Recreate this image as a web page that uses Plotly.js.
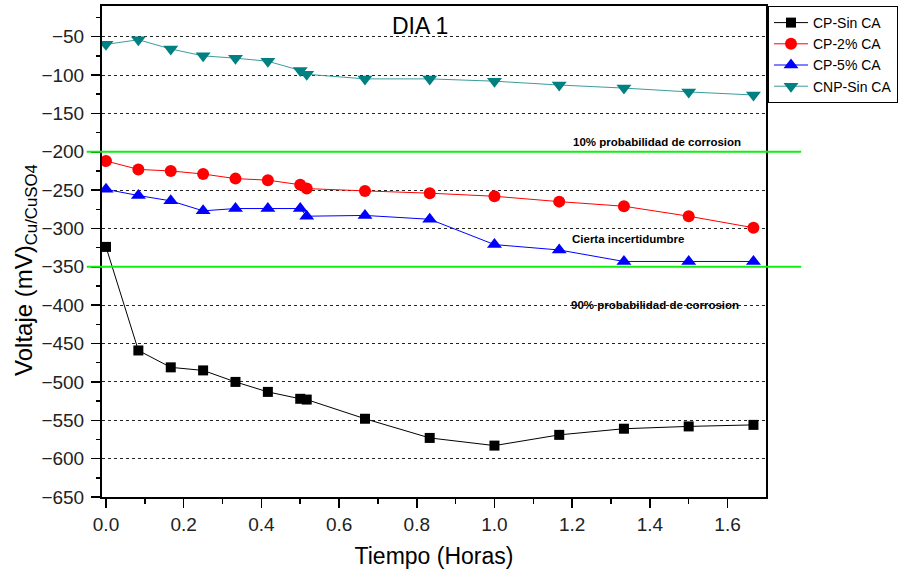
<!DOCTYPE html>
<html>
<head>
<meta charset="utf-8">
<script src="https://cdn.plot.ly/plotly-3.0.1.min.js"></script>
<style>html,body{margin:0;padding:0;background:#fff}#chart{width:906px;height:577px}</style>
</head>
<body>
<div id="chart"></div>
<script>
// Time (hours)
const tiempo = [0, 0.0833, 0.1667, 0.25, 0.3333, 0.4167, 0.5, 0.5167, 0.6667, 0.8333, 1.0, 1.1667, 1.3333, 1.5, 1.6667];
// Series (mV vs Cu/CuSO4)
const cpSinCA  = [-324, -459, -481, -485, -500, -513, -522, -523, -548, -573, -583, -569, -561, -558, -556];
const cp2CA    = [-212, -223, -225, -229, -235, -237, -243, -248, -251, -254, -258, -265, -271, -284, -299];
const cp5CA    = [-249, -257, -264, -277, -274, -274, -274, -284, -283, -288, -321, -328, -343, -343, -343];
const cnpSinCA = [-60, -54, -66, -75, -78, -82, -94, -99, -105, -105, -108, -113, -117, -122, -126];
const seriesNames = ["CP-Sin CA", "CP-2% CA", "CP-5% CA", "CNP-Sin CA"];
// threshold levels
const umbrales = [-200, -350];
const yTickVals = [-50, -100, -150, -200, -250, -300, -350, -400, -450, -500, -550, -600, -650];

const traces = [
  {x: tiempo, y: cpSinCA, name: seriesNames[0], mode: 'lines+markers',
   line: {color: '#000000', width: 1}, marker: {symbol: 'square', size: 10, color: '#000000'}},
  {x: tiempo, y: cp2CA, name: seriesNames[1], mode: 'lines+markers',
   line: {color: '#ff0000', width: 1}, marker: {symbol: 'circle', size: 12, color: '#ff0000'}},
  {x: tiempo, y: cp5CA, name: seriesNames[2], mode: 'lines+markers',
   line: {color: '#0000ff', width: 1}, marker: {symbol: 'triangle-up', size: 13, color: '#0000ff'}},
  {x: tiempo, y: cnpSinCA, name: seriesNames[3], mode: 'lines+markers',
   line: {color: '#3c9c9c', width: 1}, marker: {symbol: 'triangle-down', size: 13, color: '#008080'}}
];

const shapes = umbrales.map(v => ({
  type: 'line', xref: 'paper', yref: 'y', x0: -0.023, x1: 1.053, y0: v, y1: v,
  line: {color: '#11ee11', width: 2}, layer: 'above'
}));

const annFont = {family: 'Arial, Liberation Sans, sans-serif', size: 11.5, color: '#000'};
const annotations = [
  {x: 1.419, y: -187, xref: 'x', yref: 'y', text: '<b>10% probabilidad de corrosion</b>', showarrow: false, font: annFont},
  {x: 1.344, y: -314, xref: 'x', yref: 'y', text: '<b>Cierta incertidumbre</b>', showarrow: false, font: annFont},
  {x: 1.414, y: -400, xref: 'x', yref: 'y', text: '<b>90% probabilidad de corrosion</b>', showarrow: false, font: annFont},
  // y-axis title (placed as annotation to match its offset position)
  {xref: 'paper', yref: 'paper', x: -0.116, y: 0.4623, xanchor: 'center', yanchor: 'middle',
   textangle: -90, showarrow: false, text: 'Voltaje (mV)<sub>Cu/CuSO4</sub>',
   font: {family: 'Arial, Liberation Sans, sans-serif', size: 24, color: '#000'}}
];

const layout = {
  width: 906, height: 577,
  margin: {l: 102, r: 140, t: 6, b: 80, pad: 0},
  paper_bgcolor: '#fff', plot_bgcolor: '#fff',
  font: {family: 'Arial, Liberation Sans, sans-serif', color: '#000'},
  title: {text: 'DIA 1', font: {size: 23, color: '#000'}, xref: 'paper', x: 0.479, xanchor: 'center',
          yref: 'container', y: 0.955, yanchor: 'middle'},
  xaxis: {
    range: [-0.0103, 1.699], dtick: 0.2, tick0: 0, tickformat: '.1f',
    ticks: 'outside', ticklen: 9, tickwidth: 1.5, tickcolor: '#000',
    minor: {dtick: 0.1, ticks: 'outside', ticklen: 5, tickcolor: '#000', tickwidth: 1.5, showgrid: false},
    showline: true, linecolor: '#000', linewidth: 2, mirror: true,
    showgrid: false, zeroline: false,
    tickfont: {size: 19, color: '#222'},
    title: {text: 'Tiempo (Horas)', font: {size: 23, color: '#000'}, standoff: 14}
  },
  yaxis: {
    range: [-650, -10], tickvals: yTickVals,
    ticks: 'outside', ticklen: 9, tickwidth: 1.5, tickcolor: '#000',
    minor: {dtick: 25, tick0: -650, ticks: 'outside', ticklen: 4, tickcolor: '#000', tickwidth: 1.5, showgrid: false},
    showline: true, linecolor: '#000', linewidth: 2, mirror: true,
    showgrid: true, gridcolor: '#222', gridwidth: 1, griddash: '3px,3px',
    zeroline: false,
    tickfont: {size: 19, color: '#222'},
    ticklabelstandoff: 3
  },
  legend: {
    x: 1.003, y: 1.0, xanchor: 'left', yanchor: 'top',
    bordercolor: '#000', borderwidth: 1, bgcolor: '#fff',
    font: {size: 14, color: '#000'}, tracegroupgap: 0, itemwidth: 34
  },
  shapes: shapes,
  annotations: annotations,
  showlegend: true
};

Plotly.newPlot('chart', traces, layout, {displayModeBar: false, staticPlot: true});
</script>
</body>
</html>
